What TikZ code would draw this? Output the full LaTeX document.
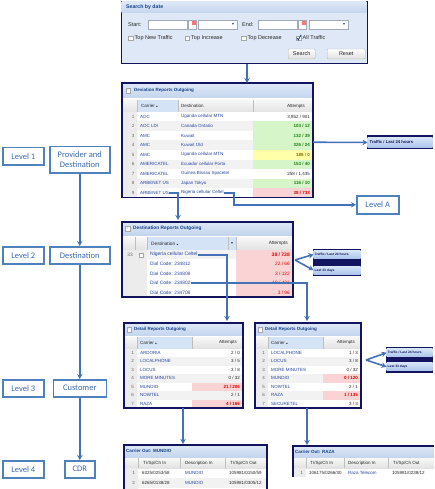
\documentclass[tikz,border=0pt]{standalone}
\usepackage{fontspec}
\setmainfont{Carlito}
\newfontfamily\uif{Liberation Sans}
\usetikzlibrary{arrows.meta}
\definecolor{navy}{RGB}{18,20,95}
\definecolor{panelbg}{RGB}{223,232,246}
\definecolor{hdrtop}{RGB}{222,232,246}
\definecolor{hdrbot}{RGB}{196,213,238}
\definecolor{hdrtxt}{RGB}{21,66,139}
\definecolor{colhdtop}{RGB}{248,248,248}
\definecolor{colhdbot}{RGB}{226,226,226}
\definecolor{sortbg}{RGB}{213,227,246}
\definecolor{numbg}{RGB}{236,236,236}
\definecolor{rowalt}{RGB}{242,242,242}
\definecolor{lnk}{RGB}{40,70,160}
\definecolor{txtdark}{RGB}{40,40,40}
\definecolor{numgray}{RGB}{100,100,100}
\definecolor{valgreen}{RGB}{30,130,20}
\definecolor{valyel}{RGB}{130,110,0}
\definecolor{valred}{RGB}{225,0,0}
\definecolor{bggreen}{RGB}{214,245,200}
\definecolor{bgyel}{RGB}{255,255,170}
\definecolor{bgred}{RGB}{250,212,212}
\definecolor{lvblue}{RGB}{79,129,189}
\definecolor{lvtext}{RGB}{58,105,175}
\definecolor{connblue}{RGB}{68,114,184}
\definecolor{bandtop}{RGB}{214,228,247}
\definecolor{bandbot}{RGB}{172,198,236}
\definecolor{fieldbd}{RGB}{160,170,185}
\newcommand\fsA{\uif\fontsize{4.5}{5}\selectfont}
\newcommand\fsB{\uif\fontsize{4.8}{5.5}\selectfont}
\newcommand\fsH{\uif\bfseries\fontsize{4.5}{5}\selectfont}
\newcommand\fsS{\uif\fontsize{5.5}{6}\selectfont}
\newcommand\fsP{\uif\bfseries\fontsize{3.3}{4}\selectfont}
\newcommand\srt{\,{\fontsize{2.8}{3}\selectfont ▲}}
\tikzset{
 lvbox/.style={draw=lvblue, line width=1.5pt, text=lvtext, fill=white, font=\fontsize{8.5}{9.5}\selectfont, inner sep=0pt, align=center, anchor=north west},
 conn/.style={draw=connblue, line width=1.6pt, -{Stealth[length=5pt,width=5.5pt]}},
 t/.style={inner sep=0pt, anchor=west, font=\fsA, text=txtdark},
 lk/.style={t, text=lnk},
 nm/.style={inner sep=0pt, anchor=east, font=\fsA, text=numgray},
 va/.style={inner sep=0pt, anchor=east, font=\fsA, text=txtdark},
 hdr/.style={inner sep=0pt, anchor=west, font=\fsH, text=hdrtxt},
 st/.style={inner sep=0pt, anchor=west, font=\fsS, text=txtdark},
 sep/.style={draw=gray!50, line width=0.3pt},
 frame/.style={draw=navy, line width=1.2pt},
 hbar/.style={top color=hdrtop, bottom color=hdrbot},
 chbar/.style={top color=colhdtop, bottom color=colhdbot},
 minus/.style={draw=gray!70, fill=white, minimum size=4.5pt, inner sep=0pt, font=\uif\fontsize{4}{4}\selectfont, text=hdrtxt},
 field/.style={draw=fieldbd, fill=white, line width=0.4pt},
 cb/.style={draw=gray!70, fill=white, minimum size=4.5pt, inner sep=0pt},
 btn/.style={draw=gray!60, top color=white, bottom color=gray!25, rounded corners=1pt, minimum height=10pt, inner sep=0pt, font=\fsS, text=txtdark},
 band/.style={top color=bandtop, bottom color=bandbot, inner sep=0pt, anchor=north west},
 ptx/.style={inner sep=0pt, anchor=west, font=\fsP, text=navy},
 dd/.style={inner sep=0pt, font=\uif\fontsize{3.5}{4}\selectfont, text=hdrtxt},
}
\newcommand\detframe[4]{%
 \fill[white] (#2,323) rectangle (#3,408);
 \fill[hbar] (#2,323) rectangle (#3,335.5);
 \node[minus] (#1-m) at (#2+5,329.5) {-};
 \node[hdr] (#1-t) at (#2+10,329.5) {Detail Reports Outgoing};
 \fill[chbar] (#2,337) rectangle (#3,348.5);
 \fill[sortbg] (#2+13,337) rectangle (#4,348.5);
 \draw[sep] (#2+13,337) -- (#2+13,348.5) (#4,337) -- (#4,348.5);
 \node[t] (#1-hc) at (#2+16,342.75) {Carrier\srt};
 \node[va] (#1-ha) at (#3-6,342.75) {Attempts};
 \fill[numbg] (#2,348.5) rectangle (#2+13,408);
}
\begin{document}
\begin{tikzpicture}[x=1pt,y=-1pt]
\useasboundingbox (0,0) rectangle (434,489);

% ---------------- left column
\node[lvbox, minimum width=41, minimum height=17] (lv1) at (2,147) {Level 1};
\node[lvbox, minimum width=60, minimum height=26] (prov) at (49,146) {Provider and\\Destination};
\node[lvbox, minimum width=41, minimum height=17] (lv2) at (2,246) {Level 2};
\node[lvbox, minimum width=60, minimum height=17] (dest) at (49,246) {Destination};
\node[lvbox, minimum width=41, minimum height=17] (lv3) at (2,379) {Level 3};
\node[lvbox, minimum width=53, minimum height=17] (cust) at (52.5,379) {Customer};
\node[lvbox, minimum width=41, minimum height=17] (lv4) at (2,460) {Level 4};
\node[lvbox, minimum width=30, minimum height=17] (cdr) at (64,460) {CDR};
\node[lvbox, minimum width=42, minimum height=18] (lvA) at (356,195) {Level A};

% ---------------- search panel
\node[draw=navy, line width=1.2pt, fill=panelbg, inner sep=0pt, minimum width=246, minimum height=62, anchor=north west] (search) at (121,1) {};
\fill[hbar] (121.6,1.6) rectangle (366.4,13);
\node[hdr, font=\uif\bfseries\fontsize{5.2}{6}\selectfont] (search-t) at (126,7.5) {Search by date};
\node[st] (s-start) at (128,24.5) {Start:};
\path[field] (148,20) rectangle (187,29);
\path[field] (188.5,20) rectangle (196.5,29);
\fill[red!55] (192,21.5) rectangle (195.5,25);
\path[field] (198,20) rectangle (237,29);
\node[dd] (s-a1) at (233,24.5) {▼};
\node[st] (s-end) at (242,24.5) {End:};
\path[field] (258,20) rectangle (297,29);
\path[field] (298.5,20) rectangle (306.5,29);
\fill[red!55] (302,21.5) rectangle (305.5,25);
\path[field] (309,20) rectangle (348,29);
\node[dd] (s-a2) at (344,24.5) {▼};
\node[cb] (cb1) at (130.5,38) {};
\node[st] (cb1-t) at (134.5,38) {Top New Traffic};
\node[cb] (cb2) at (187,38) {};
\node[st] (cb2-t) at (191,38) {Top Increase};
\node[cb] (cb3) at (243.5,38) {};
\node[st] (cb3-t) at (247.5,38) {Top Decrease};
\node[cb] (cb4) at (298.5,38) {};
\draw[hdrtxt, line width=0.8pt] (296.8,37.8) -- (298.3,39.8) -- (301.2,34.8);
\node[st] (cb4-t) at (302.5,38) {All Traffic};
\node[btn, minimum width=27] (s-search) at (301.7,54) {Search};
\node[btn, minimum width=38] (s-reset) at (346.2,54) {Reset};

% ---------------- deviation table
\coordinate (devIn) at (247,83);
\fill[white] (122,83) rectangle (313,197.5);
\fill[hbar] (122,83) rectangle (313,98);
\node[minus] (dev-m) at (128,90.5) {-};
\node[hdr] (dev-t) at (134,90.5) {Deviation Reports Outgoing};
\fill[chbar] (122,100) rectangle (313,112);
\fill[sortbg] (137,100) rectangle (178,112);
\draw[sep] (137,100) -- (137,112) (178,100) -- (178,112) (253,100) -- (253,112);
\node[t] (dev-hc) at (141,106) {Carrier\srt};
\node[t] (dev-hd) at (181,106) {Destination};
\node[va] (dev-ha) at (305,106) {Attempts};
\fill[numbg] (122,112) rectangle (137,197.5);
\foreach \i/\c/\d/\a/\bg/\tc/\w in {
 1/AOC/Uganda cellular MTN/{3,852 / 901}/none/txtdark/\mdseries,
 2/AOC LDI/Canada Ontario/{103 / 12}/bggreen/valgreen/\bfseries,
 3/AMC/Kuwait/{132 / 39}/bggreen/valgreen/\bfseries,
 4/AMC/Kuwait Old/{326 / 24}/bggreen/valgreen/\bfseries,
 5/AMC/Uganda cellular MTN/{188 / 0}/bgyel/valyel/\bfseries,
 6/AMERICATEL/Ecuador cellular Porta/{153 / 40}/bggreen/valgreen/\bfseries,
 7/AMERICATEL/Guinea Bissau Spacetel/{258 / 1,435}/none/txtdark/\mdseries,
 8/ARBENET US/Japan Tokyo/{116 / 10}/bggreen/valgreen/\bfseries,
 9/ARBENET US/Nigeria cellular Celtel/{38 / 738}/bgred/valred/\bfseries}{
 \pgfmathsetmacro\ya{112+(\i-1)*9.5}
 \pgfmathsetmacro\yb{\ya+9.5}
 \pgfmathsetmacro\ym{\ya+4.75}
 \ifodd\i\relax\else\fill[rowalt] (137,\ya) rectangle (313,\yb);\fi
 \fill[fill=\bg] (253,\ya) rectangle (313,\yb);
 \node[nm] (dev-n\i) at (134.5,\ym) {\i};
 \node[lk] (dev-c\i) at (140,\ym) {\c};
 \node[lk] (dev-d\i) at (181,\ym) {\d};
 \node[va, text=\tc, font=\fsA\w] (dev-a\i) at (310,\ym) {\a};
}
\draw[frame] (122,83) rectangle (313,197.5);
\coordinate (dev-r4) at (313,142.25);

% popup level 1
\fill[navy] (367,135) rectangle (433,149);
\node[band, minimum width=65, minimum height=9.5] (pop1) at (367.5,137.5) {};
\node[ptx, font=\uif\bfseries\fontsize{4.2}{5}\selectfont] (pop1-t) at ([xshift=2pt]pop1.west) {Traffic / Last 24 hours};

% ---------------- destination table
\coordinate (dstIn) at (178,220);
\fill[white] (122,222) rectangle (293,297);
\fill[hbar] (122,222) rectangle (293,235);
\node[minus] (dst-m) at (127.5,228.5) {-};
\node[hdr, font=\uif\bfseries\fontsize{4.8}{5.5}\selectfont] (dst-t) at (133,228.5) {Destination Reports Outgoing};
\fill[chbar] (122,237) rectangle (293,250);
\fill[sortbg] (147,237) rectangle (236,250);
\draw[sep] (135,237) -- (135,250) (147,237) -- (147,250) (236,237) -- (236,250) (228,237) -- (228,250);
\node[t, font=\fsB] (dst-hd) at (151,243.5) {Destination\srt};
\node[dd] (dst-dd) at (232,243.5) {▼};
\node[va, font=\fsB] (dst-ha) at (288,243.5) {Attempts};
\fill[numbg] (122,250) rectangle (147,297);
\fill[rowalt] (147,250) rectangle (236,259.4);
\fill[bgred] (236,250) rectangle (293,297);
\node[nm, font=\fsB] (dst-n1) at (133,254.7) {33};
\node[draw=gray!70, fill=white, minimum size=4pt, inner sep=0pt] (dst-ic) at (141,254.7) {};
\node[lk, font=\uif\fontsize{5}{6}\selectfont] (dst-d1) at (150,254.7) {Nigeria cellular Celtel};
\node[va, text=valred, font=\uif\bfseries\fontsize{5}{6}\selectfont] (dst-a1) at (290,254.7) {38 / 738};
\foreach \i/\code/\a in {2/234812/{22 / 66},3/234808/{3 / 122},4/234802/{18 / 431},5/234708/{3 / 96}}{
 \pgfmathsetmacro\ym{250+(\i-1)*9.4+4.7}
 \node[lk, font=\fsB] (dst-d\i) at (150,\ym) {Dial Code: \code};
 \node[va, text=valred, font=\fsB] (dst-a\i) at (290,\ym) {\a};
}
\draw[frame] (122,222) rectangle (293,297);
\coordinate (f2) at (295,260);

% popup level 2
\fill[navy] (313,249) rectangle (361,276);
\node[band, minimum width=47, minimum height=7.5] (pop2a) at (313.5,250.5) {};
\node[ptx] (pop2a-t) at ([xshift=1pt]pop2a.west) {Traffic / Last 24 hours};
\node[band, minimum width=47, minimum height=8] (pop2b) at (313.5,266) {};
\node[ptx] (pop2b-t) at ([xshift=1pt]pop2b.west) {Last 33 days};

% ---------------- detail tables
\detframe{det1}{124}{243}{192}
\foreach \i/\c/\a/\bg/\tc/\w in {
 1/ARDORIA/{2 / 0}/none/txtdark/\mdseries,
 2/LOCALPHONE/{3 / 5}/none/txtdark/\mdseries,
 3/LOCUS/{3 / 8}/none/txtdark/\mdseries,
 4/MORE MINUTES/{0 / 32}/none/txtdark/\mdseries,
 5/MUNDIO/{21 / 206}/bgred/valred/\bfseries,
 6/NOWTEL/{2 / 1}/none/txtdark/\mdseries,
 7/RAZA/{4 / 166}/bgred/valred/\bfseries}{
 \pgfmathsetmacro\ya{348.5+(\i-1)*8.5}
 \pgfmathsetmacro\yb{\ya+8.5}
 \pgfmathsetmacro\ym{\ya+4.25}
 \ifodd\i\relax\else\fill[rowalt] (137,\ya) rectangle (243,\yb);\fi
 \fill[fill=\bg] (192,\ya) rectangle (243,\yb);
 \node[nm] (det1-n\i) at (134,\ym) {\i};
 \node[lk] (det1-c\i) at (140,\ym) {\c};
 \node[va, text=\tc, font=\fsA\w] (det1-a\i) at (240,\ym) {\a};
}
\draw[frame] (124,323) rectangle (243,408);

\detframe{det2}{255}{361}{323}
\foreach \i/\c/\a/\bg/\tc/\w in {
 1/LOCALPHONE/{1 / 3}/none/txtdark/\mdseries,
 2/LOCUS/{3 / 8}/none/txtdark/\mdseries,
 3/MORE MINUTES/{0 / 32}/none/txtdark/\mdseries,
 4/MUNDIO/{0 / 120}/bgred/valred/\bfseries,
 5/NOWTEL/{2 / 1}/none/txtdark/\mdseries,
 6/RAZA/{1 / 135}/bgred/valred/\bfseries,
 7/SECURETEL/{3 / 3}/none/txtdark/\mdseries}{
 \pgfmathsetmacro\ya{348.5+(\i-1)*8.5}
 \pgfmathsetmacro\yb{\ya+8.5}
 \pgfmathsetmacro\ym{\ya+4.25}
 \ifodd\i\relax\else\fill[rowalt] (268,\ya) rectangle (361,\yb);\fi
 \fill[fill=\bg] (323,\ya) rectangle (361,\yb);
 \node[nm] (det2-n\i) at (265,\ym) {\i};
 \node[lk] (det2-c\i) at (271,\ym) {\c};
 \node[va, text=\tc, font=\fsA\w] (det2-a\i) at (358,\ym) {\a};
}
\draw[frame] (255,323) rectangle (361,408);
\coordinate (det1In) at (227,321);
\coordinate (det2In) at (307,321);
\coordinate (det1Out) at (183,408);
\coordinate (det2Out) at (307,408);
\coordinate (f3) at (366,360);

% popup level 3
\fill[navy] (386,347) rectangle (433,373);
\node[band, minimum width=46, minimum height=8] (pop3a) at (386.5,348.5) {};
\node[ptx] (pop3a-t) at ([xshift=1pt]pop3a.west) {Traffic / Last 24 hours};
\node[band, minimum width=46, minimum height=8] (pop3b) at (386.5,362.5) {};
\node[ptx] (pop3b-t) at ([xshift=1pt]pop3b.west) {Last 33 days};

% ---------------- carrier tables
\coordinate (car1In) at (183,444);
\fill[white] (124,445) rectangle (267,491);
\fill[hbar] (124,445) rectangle (267,457);
\node[hdr] (car1-t) at (126,451) {Carrier Out: MUNDIO};
\fill[chbar] (124,458) rectangle (267,468);
\draw[sep] (138,458) -- (138,468) (180,458) -- (180,468) (225,458) -- (225,468);
\node[t] (car1-h1) at (143,463) {Tr/Sp/Ch In};
\node[t] (car1-h2) at (185,463) {Description In};
\node[t] (car1-h3) at (230,463) {Tr/Sp/Ch Out};
\fill[numbg] (124,468) rectangle (138,491);
\fill[rowalt] (138,478) rectangle (267,488);
\node[nm] (car1-n1) at (135,473) {1};
\node[t] (car1-a1) at (142,473) {6325/0253/58};
\node[lk] (car1-b1) at (185,473) {MUNDIO};
\node[t] (car1-c1) at (229,473) {105981/0150/59};
\node[nm] (car1-n2) at (135,483) {2};
\node[t] (car1-a2) at (142,483) {6265/0138/28};
\node[lk] (car1-b2) at (185,483) {MUNDIO};
\node[t] (car1-c2) at (229,483) {105981/0305/12};
\draw[frame] (124,491) -- (124,445) -- (267,445) -- (267,491);

\coordinate (car2In) at (307,445);
\fill[white] (293,446) rectangle (434,477);
\fill[hbar] (293,446) rectangle (434,457);
\node[hdr] (car2-t) at (295,451.5) {Carrier Out: RAZA};
\fill[chbar] (293,458) rectangle (434,468);
\draw[sep] (306,458) -- (306,468) (344,458) -- (344,468) (388,458) -- (388,468);
\node[t] (car2-h1) at (310,463) {Tr/Sp/Ch In};
\node[t] (car2-h2) at (348,463) {Description In};
\node[t] (car2-h3) at (393,463) {Tr/Sp/Ch Out};
\fill[numbg] (293,468) rectangle (306,477);
\node[nm] (car2-n1) at (303,472.5) {1};
\node[t] (car2-a1) at (309,472.5) {106175/0266/30};
\node[lk] (car2-b1) at (348,472.5) {Raza Telecom};
\node[t] (car2-c1) at (392,472.5) {105981/0238/12};
\draw[frame] (293,477) -- (293,446) -- (434,446);

% ---------------- connectors
\draw[conn] (prov.south) -- (dest.north);
\draw[conn] (dest.south) -- (cust.north);
\draw[conn] (cust.south) -- (cdr.north);
\draw[conn] (devIn |- search.south) -- (devIn);
\draw[conn] (dev-r4) -- (pop1.west);
\draw[conn] (dev-d9.east) -- ++(10,0) |- (lvA.west);
\draw[conn] (dev-c9.east) -| (dstIn);
\draw[conn] (dst-d1.east) -| (det1In);
\draw[conn] (dst-d4.east) -| (det2In);
\draw[conn] (f2) -- (pop2a.west);
\draw[conn] (f2) -- (pop2b.west);
\draw[conn] (f3) -- (pop3a.west);
\draw[conn] (f3) -- (pop3b.west);
\draw[conn] (det1Out) -- (car1In);
\draw[conn] (det2Out) -- (car2In);
\end{tikzpicture}
\end{document}
